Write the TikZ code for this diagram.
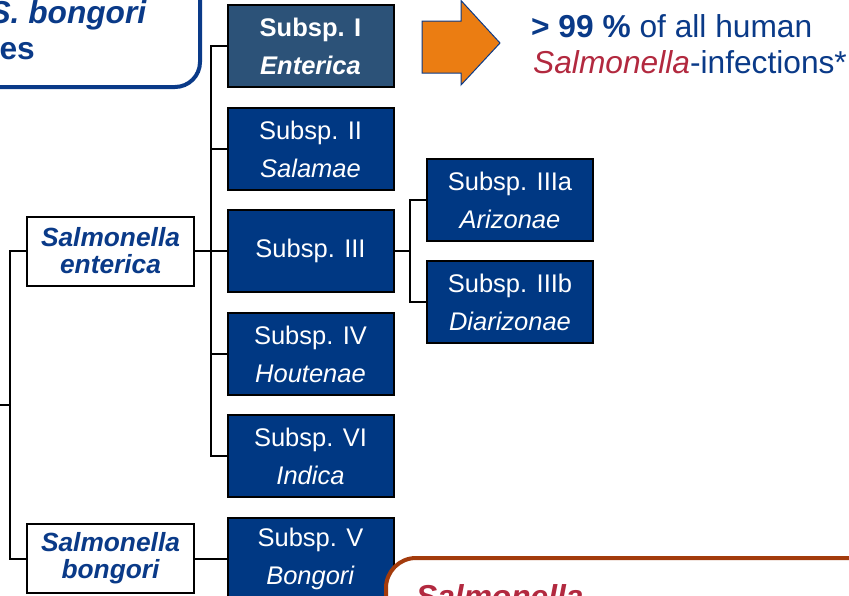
\documentclass[tikz,border=0pt]{standalone}
\usepackage{fontspec}
\setmainfont{Liberation Sans}

\definecolor{subblue}{HTML}{003883}
\definecolor{subslate}{HTML}{2C5278}
\definecolor{txtblue}{HTML}{0A3A88}
\definecolor{salred}{HTML}{B2293F}
\definecolor{arrorange}{HTML}{EB7D12}
\definecolor{rust}{HTML}{A33B0C}

\tikzset{
  subsp/.style={draw=black, line width=2pt, fill=subblue, text=white,
    minimum width=166pt, minimum height=82pt, inner sep=0pt, align=center,
    font=\fontsize{25.5}{38}\selectfont},
  species/.style={draw=black, line width=2pt, fill=white, text=txtblue,
    minimum width=167pt, minimum height=69pt, inner sep=0pt, align=center,
    font=\fontsize{26.3}{27}\selectfont\bfseries\itshape},
  big/.style={inner sep=0pt, font=\fontsize{31.7}{36}\selectfont, text=txtblue}
}

\begin{document}
\begin{tikzpicture}[x=1pt, y=-1pt]
\useasboundingbox (0,0) rectangle (849,595);
\clip (0,0) rectangle (849,595);

% box at the top left, cut by the frame
\draw[draw=txtblue, line width=4pt, rounded corners=25pt] (-300,-80) rectangle (200,87);
\node[big, anchor=base east] (tla) at (147,23) {\textbf{\textit{S. bongori}}};
\node[big, anchor=base east] (tlb) at (35,59) {\textbf{es}};

% species
\node[species] (ent) at (110.5,251) {Salmonella\\enterica};
\node[species] (bon) at (110.5,558.5) {Salmonella\\bongori};

% subspecies
\node[subsp, fill=subslate, font=\fontsize{25.5}{38}\selectfont\bfseries] (s1) at (310.5,46) {Subsp. I\\\textit{Enterica}};
\node[subsp] (s2) at (310.5,149) {Subsp. II\\\textit{Salamae}};
\node[subsp] (s3) at (310.5,251) {Subsp. III};
\node[subsp] (s4) at (310.5,354) {Subsp. IV\\\textit{Houtenae}};
\node[subsp] (s6) at (310.5,456) {Subsp. VI\\\textit{Indica}};
\node[subsp] (s5) at (310.5,558.5) {Subsp. V\\\textit{Bongori}};
\node[subsp] (s3a) at (510,200) {Subsp. IIIa\\\textit{Arizonae}};
\node[subsp] (s3b) at (510,302) {Subsp. IIIb\\\textit{Diarizonae}};

% forks
\coordinate (root) at (0,405);
\coordinate (f0) at (10,405);
\coordinate (f1) at (211,251);
\coordinate (f3) at (410,251);

\begin{scope}[line width=2pt]
\draw (root) -- (f0);
\draw (ent.west) -| (f0) |- (bon.west);
\draw (s1.west) -| (f1) |- (s6.west);
\draw (s3a.west) -| (f3) |- (s3b.west);
\foreach \p/\q in {ent.east/f1, s3.west/f1, s2.west/f1, s4.west/f1, s3.east/f3, bon.east/s5.west}
{\draw (\p) -| (\q);}
\end{scope}

% arrow and note
\filldraw[fill=arrorange, draw=txtblue, line width=1pt]
  (422,21) -- (461,21) -- (461,0.5) -- (500,43) -- (461,85) -- (461,73) -- (422,73) -- cycle;
\node[big, anchor=base west] (n1) at (531,37.5) {\textbf{> 99 \%} of all human};
\node[big, anchor=base west] (n2) at (533,73) {\textcolor{salred}{\textit{Salmonella}}-infections*};

% box at the bottom right, cut by the frame
\draw[draw=rust, line width=4pt, fill=white, rounded corners=30pt] (386,558) rectangle (1100,900);
\node[big, anchor=base west, text=salred] (br) at (416,607) {\textbf{\textit{Salmonella}}};

\end{tikzpicture}
\end{document}
